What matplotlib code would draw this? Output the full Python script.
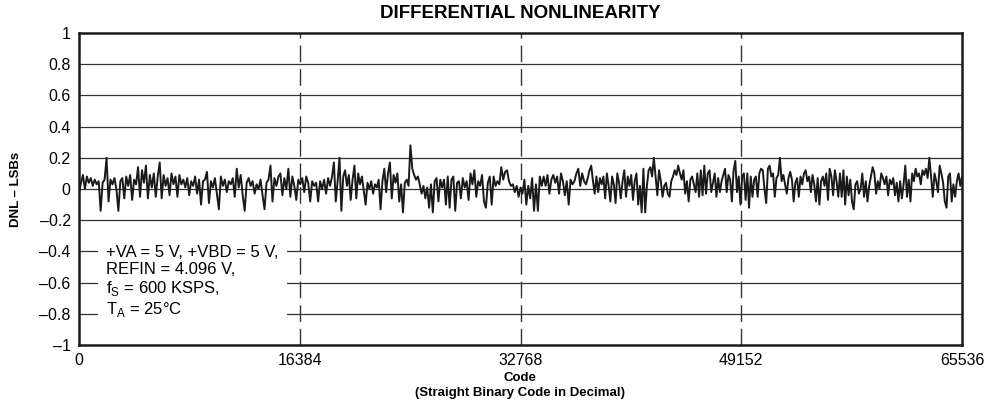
import numpy as np
import matplotlib
matplotlib.use("Agg")
import matplotlib.pyplot as plt

plt.rcParams['font.family'] = ['Liberation Sans', 'DejaVu Sans']

# DNL readings (LSB) from left to right
seg_edges = [0, 9350, 18780, 28200, 37630, 47055, 56480, 65536]

dnl_a = [-0.03, 0.04, 0.09, 0.0, 0.08, 0.04, 0.07, 0.02, 0.06, 0.03, 0.05, -0.14, 0.04, 0.06,
         0.20, -0.08, 0.06, 0.03, 0.07, 0.0, -0.14, 0.05, 0.07, -0.06, 0.08, 0.02, 0.09, -0.07,
         0.06, 0.03, 0.14, -0.05, 0.12, 0.04, 0.15, -0.06, 0.09, 0.01, 0.10, -0.05, 0.08, 0.17,
         -0.06, 0.09, 0.02, 0.07, -0.04, 0.10, 0.03, 0.08, -0.05, 0.09, 0.03, 0.06, 0.01, 0.07,
         -0.04, 0.05, 0.02, 0.08, -0.03, 0.06, -0.10, 0.05]
dnl_b = [0.06, 0.11, -0.09, 0.05, 0.01, 0.07, -0.03, -0.13, 0.08, 0.02, 0.06, -0.02, 0.05, 0.03,
         0.07, -0.05, 0.13, 0.01, 0.09, -0.04, -0.14, 0.04, 0.07, 0.02, 0.05, -0.03, 0.03, 0.0,
         0.06, -0.04, -0.13, 0.04, 0.06, 0.15, -0.08, 0.07, 0.02, 0.08, 0.10, -0.04, 0.07, 0.0,
         0.13, -0.05, 0.08, 0.02, -0.07, 0.06, 0.03, 0.07, -0.02, 0.08, 0.04, -0.08, 0.05, 0.02,
         0.04, -0.08, 0.05, 0.0, 0.06, -0.03, 0.07, 0.02]
dnl_c = [0.08, 0.17, -0.08, 0.05, 0.20, -0.14, 0.08, 0.12, 0.02, 0.09, -0.07, 0.06, 0.15, -0.06,
         0.10, 0.03, 0.08, -0.01, -0.10, 0.04, 0.0, 0.05, -0.03, 0.03, 0.01, 0.06, -0.13, 0.05,
         0.13, -0.02, 0.10, 0.17, -0.06, 0.09, 0.04, 0.10, -0.08, 0.03, -0.15, 0.04, 0.06, 0.02,
         0.28, 0.13, 0.09, 0.06, 0.08, 0.03, -0.03, 0.02, -0.06, 0.01, -0.12, 0.03, -0.15, 0.05,
         0.07, -0.08, 0.06, 0.01, 0.06, -0.10, 0.08, -0.12, 0.06, 0.08, -0.14, 0.04]
dnl_d = [0.05, -0.06, 0.07, 0.01, 0.05, -0.07, 0.10, 0.03, 0.12, -0.05, 0.05, 0.02, 0.09, -0.08,
         -0.12, 0.04, 0.08, -0.10, 0.08, 0.02, 0.05, 0.03, 0.14, 0.06, 0.11, 0.12, 0.05, 0.02,
         0.03, -0.02, 0.02, -0.05, 0.01, -0.03, 0.06, -0.10, 0.02, -0.06, 0.07, -0.14, 0.03, -0.14,
         0.08, 0.02, 0.08, 0.02, 0.09, -0.03, 0.06, 0.09, 0.04, 0.08, -0.03, 0.10, 0.05, -0.04,
         0.05, -0.10, 0.06, 0.03, 0.05, 0.10, 0.13, 0.02, 0.10, 0.05]
dnl_e = [0.03, 0.07, 0.12, 0.15, 0.05, -0.03, 0.08, -0.02, 0.07, 0.03, 0.08, -0.06, 0.10, 0.02,
         -0.08, 0.08, 0.03, -0.09, 0.10, 0.04, -0.06, 0.05, 0.12, -0.05, 0.08, 0.02, 0.09, -0.07,
         0.05, 0.10, -0.10, 0.02, -0.15, 0.13, -0.15, 0.02, 0.12, 0.14, 0.08, 0.20, 0.08, -0.04,
         0.12, 0.05, -0.05, 0.02, 0.04, -0.03, -0.05, 0.05, 0.08, 0.12, 0.09, 0.15, 0.10, 0.06,
         0.12, -0.03, 0.05, -0.08, 0.06, 0.08, 0.03, -0.02, 0.10, -0.05, 0.12, -0.04, 0.15, -0.03,
         0.10, 0.12, -0.02]
dnl_f = [0.04, 0.10, -0.05, 0.07, -0.02, 0.05, 0.09, 0.13, -0.02, 0.09, 0.06, -0.08, 0.12, 0.18,
         -0.02, 0.08, -0.10, 0.08, 0.10, -0.07, 0.10, -0.12, 0.08, -0.05, 0.06, 0.08, -0.05, 0.10,
         0.13, 0.12, 0.00, -0.09, 0.13, 0.15, 0.08, 0.10, -0.05, 0.07, 0.09, 0.20, 0.05, 0.09,
         0.03, -0.03, 0.07, 0.11, 0.06, -0.08, 0.04, 0.07, -0.05, 0.08, 0.03, 0.10, 0.12, 0.05,
         0.08, -0.02, 0.09, 0.03, -0.08, 0.07, -0.10, 0.05, 0.08, 0.02, 0.10, -0.07, 0.13, 0.08,
         -0.04, 0.12, 0.05, -0.05]
dnl_g = [0.10, -0.05, 0.12, -0.10, 0.08, -0.04, 0.06, -0.08, -0.13, 0.03, 0.05, -0.03, 0.00, 0.10,
         -0.05, 0.05, -0.08, 0.02, 0.08, 0.14, 0.10, -0.03, 0.05, 0.00, 0.10, 0.07, 0.03, 0.08,
         -0.04, 0.06, 0.03, 0.07, -0.04, 0.04, -0.08, 0.05, -0.06, 0.03, 0.15, -0.05, 0.06, -0.08,
         0.10, 0.05, 0.13, 0.08, 0.10, 0.03, 0.12, 0.09, 0.13, 0.07, 0.20, 0.08, -0.05, 0.10,
         0.05, -0.02, 0.15, 0.10, 0.04, -0.08, -0.12, 0.08, 0.10, -0.08, 0.03, -0.05, 0.05, 0.10,
         0.02, 0.08]
segments = [dnl_a, dnl_b, dnl_c, dnl_d, dnl_e, dnl_f, dnl_g]

x_ticks = [0, 16384, 32768, 49152, 65536]
y_ticks = [1, 0.8, 0.6, 0.4, 0.2, 0, -0.2, -0.4, -0.6, -0.8, -1]
y_labels = ["1", "0.8", "0.6", "0.4", "0.2", "0", "\u20130.2", "\u20130.4",
            "\u20130.6", "\u20130.8", "\u20131"]

codes, dnl = [], []
for i, vals in enumerate(segments):
    last = i == len(segments) - 1
    codes.extend(np.linspace(seg_edges[i], seg_edges[i + 1], len(vals), endpoint=last))
    dnl.extend(vals)

fig = plt.figure(figsize=(9.85, 4.12), dpi=100)
ax = fig.add_axes([79 / 985, 1 - 345 / 412, 883 / 985, 312 / 412])

for y in y_ticks[1:-1]:
    ax.axhline(y, color="#333333", lw=0.9, zorder=1)
for x in x_ticks[1:-1]:
    ax.axvline(x, color="#333333", lw=1.0, dashes=(12, 5), zorder=1)

ax.plot(codes, dnl, color="#1a1a1a", lw=1.4, zorder=3)

ax.set_xlim(0, 65536)
ax.set_ylim(-1, 1)
ax.set_xticks(x_ticks)
ax.set_xticklabels([str(v) for v in x_ticks])
ax.set_yticks(y_ticks)
ax.set_yticklabels(y_labels)
ax.tick_params(length=0, labelsize=11.5, pad=6)
for s in ax.spines.values():
    s.set_linewidth(1.8)
    s.set_color("#1a1a1a")

ax.text(2000, -0.36,
        "+VA = 5 V, +VBD = 5 V,\nREFIN = 4.096 V,\n"
        "f$_\\mathregular{S}$ = 600 KSPS,\nT$_\\mathregular{A}$ = 25\u00b0C",
        fontsize=12, va="top", ha="left", linespacing=1.15, zorder=5,
        bbox=dict(boxstyle="square,pad=0.5", fc="white", ec="none"))

fig.text(520 / 985, 1 - 14 / 412, "DIFFERENTIAL NONLINEARITY", ha="center", va="center",
         fontsize=13.5, fontweight="bold")
fig.text(16 / 985, 1 - 189 / 412, "DNL \u2013 LSBs", rotation=90, ha="center", va="center",
         fontsize=9.5, fontweight="bold")
fig.text(520 / 985, 1 - 378 / 412, "Code", ha="center", va="center",
         fontsize=9.5, fontweight="bold")
fig.text(520 / 985, 1 - 393 / 412, "(Straight Binary Code in Decimal)", ha="center",
         va="center", fontsize=9.5, fontweight="bold")

fig.savefig("out.png", dpi=100)
